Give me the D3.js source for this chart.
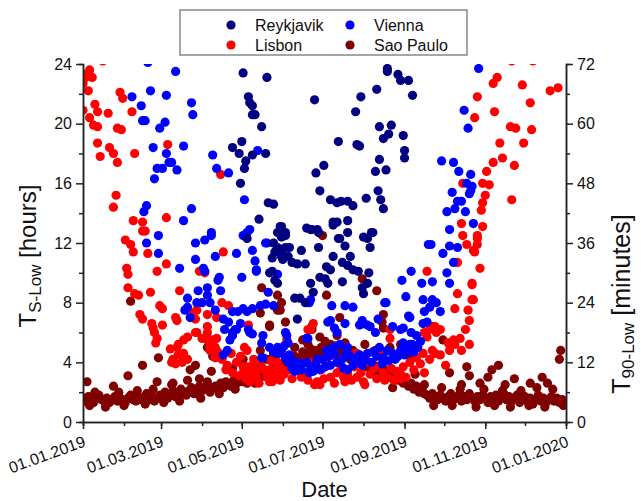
<!DOCTYPE html>
<html>
<head>
<meta charset="utf-8">
<script src="https://cdn.jsdelivr.net/npm/d3@7"></script>
<style>
body { margin: 0; background: #fff; }
svg { font-family: Arial, "Liberation Sans", sans-serif; }
</style>
</head>
<body>
<script>
// values are [day of 2019, T in hours]
const reykjavik = [[121,23.4],[139,23.1],[125,21.8],[126,21.4],[128,21.2],[128,20.6],[130,20.6],[135,19.8],[113,18.4],[120,18.8],[118,18.0],[128,17.9],[138,18.0],[123,17.5],[122,17.0],[119,16.0],[140,14.7],[144,14.6],[133,13.6],[149,13.1],
	[230,23.7],[230,23.5],[238,23.3],[240,22.9],[246,22.9],[222,22.3],[249,21.9],[210,21.8],[175,21.6],[206,20.8],[224,19.8],[233,19.9],[231,19.3],[227,19.0],[242,19.2],[193,18.8],[207,18.6],[209,18.5],[243,18.2],[243,17.7],[224,17.6],[182,17.2],[176,16.7],[229,16.9],[221,16.8],[179,15.5],[223,15.5],[187,14.9],[195,14.8],[192,14.7],[200,14.8],[204,14.5],[214,15.0],[225,14.9],[227,14.3],[189,13.2],[192,13.4],[169,13.0],[173,12.9],[177,12.9],[200,12.7],[219,12.7],[150,13.1],[153,12.7],
	[172,12.9],[178,12.7],[150,12.4],[153,11.7],[150,11.1],[165,11.5],[178,11.7],[194,12.3],[212,12.4],[218,12.7],[217,11.7],[198,11.8],[202,11.1],[189,11.1],[196,10.7],[184,10.4],[187,10.2],[200,10.5],[204,10.2],[208,10.1],[158,10.7],[162,10.6],[168,10.6],[216,10.0],[179,9.7],[183,9.6],[185,9.3],[196,9.4],[215,9.3],[172,9.3],[174,8.7],[211,9.0],[212,8.6],[160,8.3],[164,8.3],[168,8.0],[162,6.9],
	[143,11.0],[144,12.0],[147,11.7],[141,10.0],[145,9.5],[147,9.3],[147,12.7],[124,12.3],[145,11.4],[150,11.3],[156,11.7],[155,11.1],[151,10.9],[143,10.1],[153,12.5],[193,12.3],[215,12.3],[189,13.4],[200,13.5]];

const vienna = [[49,24.1],[70,23.5],[51,22.2],[63,21.9],[37,21.8],[82,21.4],[44,21.2],[83,20.6],[45,20.2],[47,20.2],[62,20.1],[58,19.7],[76,18.5],[53,18.4],[63,18.0],[98,17.9],[65,17.4],[67,17.4],[56,17.0],[60,17.0],[71,16.9],[101,17.0],[110,16.7],[54,16.3],[132,18.2],[122,14.9],[48,14.5],[82,14.3],[46,14.1],[76,13.5],[126,12.9],[57,12.5],[97,12.7],
	[48,12.0],[57,11.3],[85,12.0],[92,12.2],[97,12.5],[121,12.5],[124,12.7],[116,11.3],[128,11.5],[138,12.0],[100,11.1],[85,10.9],[73,10.3],[91,10.3],[92,10.1],[130,10.8],[131,10.1],[103,9.7],[102,9.5],[120,9.7],[87,8.8],[94,9.0],[94,8.5],[104,8.8],[140,8.7],[79,8.3],[79,7.7],[86,8.0],[90,8.0],[96,8.0],[77,7.5],[81,7.0],[100,7.5],[113,7.4],[117,7.4],[124,7.4],[128,7.6],[134,7.8],[138,7.9],[144,7.8],[106,6.9],[110,6.7],[119,6.6],[125,6.2],[128,5.9],[107,6.2],[115,6.2],[113,5.8],[111,5.5],[136,5.8],[135,5.3],[141,5.0],[144,4.7],[109,4.8],[106,4.5],[136,4.3],
	[122,12.5],[139,12.0],[131,10.2],[147,9.9],[172,8.2],[188,7.8],[198,7.8],[204,7.7],[228,8.0],[241,9.5],[248,10.1],[256,9.3],[244,8.4],[257,8.2],[261,11.9],[247,7.0],[258,7.4],[260,6.7],[121,7.6],[187,6.8],[198,6.6],[211,6.8],[215,6.5],[234,6.4],[242,6.3],
	[263,11.9],[272,11.3],[277,11.8],[283,11.7],[280,10.7],[264,9.4],[275,10.0],[277,9.3],[229,8.0],[264,8.2],[267,8.0],[262,7.7],[270,7.4],[171,8.0],[246,7.1],[223,6.9],[209,6.5],[185,6.7],[190,6.3],[221,6.0],[154,5.8],[170,5.6],[240,6.2],[248,6.0],[252,5.8],[249,5.2],[253,5.0],
	[113,6.0],[116,6.2],[126,6.0],[147,5.0],[150,4.8],[153,4.3],[155,4.0],[158,3.6],[162,3.5],[165,3.5],[169,4.0],[172,3.6],[177,3.6],[181,4.2],[184,4.8],[189,5.0],[194,5.2],[200,5.0],[202,4.4],[206,4.0],[200,3.5],[209,4.5],[215,4.6],[219,4.7],[224,5.0],[230,4.8],[234,4.6],[240,4.8],[242,5.3],[247,5.2],[135,4.3],[153,6.0],[155,5.3],[169,5.6],[192,6.0],[212,6.6],[217,6.4],[257,6.6],[211,3.8],[197,3.6],[177,4.2],[162,4.0],[156,4.5],[160,3.4],[164,3.8],[174,3.4],[179,3.5],[187,3.8],[192,4.0],[197,4.3],[204,3.8],[213,4.2],[227,4.3],[236,4.2],[243,4.5],
	[166,3.9],[171,3.3],[176,3.9],[183,3.7],[186,4.4],[190,4.6],[195,4.1],[199,4.7],[207,4.3],[218,4.0],[222,4.4],[226,3.9],[231,4.1],[238,4.4],[245,4.8],[250,4.7],[255,5.4],[148,4.6],[152,5.1],[157,4.2],
	[299,23.7],[288,20.9],[291,19.7],[271,17.5],[280,17.4],[284,16.8],[293,16.6],[290,16.0],[279,15.4],[293,15.5],[292,15.3],[283,14.8],[286,14.8],[281,14.3],[275,14.1],[289,14.1],[295,13.3],[277,12.9],[294,15.8]];

const lisbon = [[15,24.2],[2,23.1],[7,23.1],[0,22.7],[4,22.2],[5,23.6],[1,23.3],[28,22.1],[30,21.7],[9,21.3],[0,20.9],[11,20.8],[19,20.7],[37,20.8],[5,20.4],[8,19.9],[11,19.8],[26,19.7],[29,19.6],[11,18.7],[20,18.4],[23,18.0],[13,17.8],[26,17.4],[39,18.0],[64,18.6],[104,16.6],[25,15.2],[23,14.4],[38,13.5],[45,13.4],[63,13.7],[45,12.8],[47,12.8],[32,12.2],[36,11.9],[38,11.4],[49,11.3],[63,10.6],[56,10.1],[33,10.3],[34,9.9],[34,9.0],[39,8.6],[42,8.5],[51,8.7],[73,8.8],[58,7.8],[60,7.6],[43,7.2],[45,6.9],[70,7.0],[71,6.8],[52,6.6],[53,6.3],[60,6.5],[54,6.0],[56,5.6],[79,5.7],[55,5.3],[66,4.9],[72,5.2],[76,4.6],[72,4.5],[67,4.0],[70,3.9],[76,4.2],[86,6.0],[88,10.1],[92,10.0],[83,7.3],[86,7.5],[85,6.9],[94,7.2],[90,5.6],[94,5.5],[97,5.5],[101,5.6],[96,5.0],[100,5.0],[102,4.7],[94,6.4],[101,7.0],[106,11.4],[105,8.0],[110,7.8],[109,3.8],[122,5.0],[124,3.7],
	[68,4.2],[75,4.0],[79,4.2],[100,4.3],[116,4.0],[121,3.7],[113,3.3],[126,3.3],[131,3.0],[139,3.0],[144,3.3],[135,3.7],[147,3.7],[128,3.8],[143,2.7],[98,5.0],[85,6.0],[76,5.5],[71,5.0],[94,6.0],[96,4.8],[101,4.4],[124,4.8],[121,3.3],[131,3.4],[126,2.7],[141,3.5],[147,4.0],[141,2.7],[149,3.0],[156,3.5],[165,3.0],[177,2.7],[175,2.5],[187,3.0],[192,3.3],[197,3.0],[207,3.0],[217,3.2],[227,3.3],[237,3.4],[242,3.7],[247,4.0],[252,4.3],[257,4.6],[264,4.8],[260,5.7],[267,6.0],[227,4.0],[215,4.0],[192,4.0],[172,4.0],[164,3.7],[134,3.8],[174,6.6],[172,6.2],[154,5.5],[125,6.5],[227,4.6],[207,4.6],
	[152,3.2],[158,2.9],[160,3.8],[168,3.3],[170,2.8],[180,3.5],[182,2.9],[185,3.8],[190,2.6],[195,3.6],[200,3.2],[203,2.8],[205,3.7],[210,3.3],[212,2.7],[220,3.6],[222,2.9],[225,3.8],[230,3.0],[233,3.6],[235,2.8],[240,3.2],[244,3.0],[250,3.5],[255,3.9],[258,3.3],[262,4.2],[266,4.6],[270,4.5],[274,3.8],[277,4.8],[281,5.2],[285,5.6],[289,6.2],[292,6.8],[291,7.5],[286,4.8],[292,5.2],
	[105,4.2],[108,3.5],[112,4.6],[118,3.1],[119,4.4],[123,2.9],[129,4.2],[133,2.6],[137,3.5],[142,4.1],[146,2.9],[150,3.6],
	[287,12.5],[298,12.3],[290,11.9],[295,11.5],[283,10.7],[260,10.1],[294,9.3],[283,8.6],[281,7.6],[295,8.2],[270,6.2],[258,6.0],[262,6.2],[266,6.4],[280,5.5],[276,5.3],[170,6.2],[169,5.6],[232,5.6],[232,6.2],[178,2.6],[149,2.8],[179,2.5],[198,2.7],[213,2.5],[228,2.8],[240,2.9],
	[324,24.2],[340,24.2],[313,23.1],[310,22.7],[332,22.6],[353,22.2],[359,22.4],[298,21.8],[338,21.4],[296,20.4],[311,20.8],[323,19.8],[327,19.7],[339,19.6],[315,18.7],[333,18.7],[310,17.4],[317,17.7],[326,17.2],[305,16.8],[302,16.0],[307,15.9],[324,14.9],[304,15.2],[302,14.7],[301,14.2],[302,13.1],[298,12.5],[298,11.9],[296,11.4],[300,10.3],[294,9.2],[294,8.2],[287,16.0],[286,13.3]];

// Sao Paulo: one value every second day from 1 Jan, then the scattered ones
const saoPauloStep = 2;
const saoPauloDaily = [1.6,1.4,1.7,1.5,1.3,1.6,1.8,1.5,1.4,1.6,1.3,1.5,1.7,1.4,1.6,1.5,1.3,1.6,1.8,1.5,1.4,1.7,1.5,1.6,1.9,1.5,1.7,1.4,1.6,1.8,
	1.7,2.0,1.6,1.9,2.1,1.7,1.8,2.2,1.9,1.8,2.1,2.3,1.9,2.0,2.4,2.1,2.2,2.5,2.0,2.3,
	2.4,2.2,2.6,2.3,2.7,2.5,2.4,2.8,2.6,2.9,2.7,3.0,2.6,2.9,3.1,2.8,3.2,3.0,3.3,3.1,
	3.4,3.2,3.6,3.3,3.8,3.5,4.0,3.7,4.1,3.9,4.4,4.0,4.3,4.7,4.1,4.5,4.9,4.3,4.7,4.4,5.0,4.6,4.3,4.8,4.5,5.1,4.7,4.4,4.9,4.6,
	4.6,4.2,4.5,4.0,4.3,3.9,4.1,3.7,4.0,3.6,3.8,3.4,3.7,3.3,3.5,3.1,3.4,2.9,3.2,2.8,3.0,2.6,2.8,2.4,2.6,2.2,2.4,2.0,2.2,1.9,
	1.8,1.6,1.9,1.7,1.5,1.8,1.6,1.4,1.7,1.9,1.5,1.6,1.8,1.4,1.7,1.5,1.9,1.6,1.4,1.7,1.5,1.8,1.6,1.3,1.7,1.5,1.8,1.4,1.6,1.9,1.5,1.7,1.4,1.6,1.8,1.3,1.5,1.7,1.4,1.6,1.2,1.5,1.8,1.4,1.6,1.3,1.5,1.7,1.4,1.6,1.3,1.5,1.4];
const saoPauloExtra = [[3,2.7],[23,2.4],[34,3.1],[45,3.8],[36,8.1],[57,4.3],[56,2.7],[68,2.6],[85,3.8],[79,2.8],[97,3.4],[94,2.7],[94,5.0],[98,4.4],[135,9.0],[141,6.5],[147,7.5],[130,2.6],[150,12.7],[181,12.5],[147,8.5],[150,8.0],[149,7.5],[134,7.3],[153,6.7],[141,6.4],[184,8.5],[211,9.6],[222,8.8],[194,7.0],[227,7.2],[226,6.7],[173,6.4],[227,6.3],[173,6.2],[264,6.4],[272,5.5],[290,3.7],[277,3.3],[286,2.5],[251,3.2],[258,2.5],[234,3.0],[234,2.3],[179,5.7],[183,5.4],[187,5.2],[166,5.5],[170,5.2],[192,5.8],[198,5.3],[175,4.8],[160,5.0],[204,4.8],[213,5.2],[221,4.8],[232,5.0],[240,5.2],[247,4.5],[139,4.2],[144,4.5],[134,4.8],[121,4.2],[113,3.6],[88,2.9],[81,3.5],[306,3.0],[309,3.5],[314,3.8],[326,2.9],[347,3.0],[351,2.6],[361,4.8],[360,4.2],[338,2.6],[319,2.5],[300,2.6],[292,3.1],
	[5,1.1],[9,2.0],[17,1.0],[27,2.0],[31,1.1],[41,2.1],[47,1.2],[53,2.2],[61,1.3],[67,2.5],[73,1.4],[89,1.6],[103,1.9],[115,2.2],[265,1.1],[271,2.3],[279,1.1],[285,2.2],[297,1.0],[303,2.2],[311,1.1],[317,2.1],[323,1.0],[331,2.1],[337,1.1],[343,2.3],[349,1.0],[355,2.2],[363,1.1]];

const leftTicks = [0, 4, 8, 12, 16, 20, 24];
const rightTicks = [0, 12, 24, 36, 48, 60, 72];
const dateTicks = ["01.01.2019", "01.03.2019", "01.05.2019", "01.07.2019", "01.09.2019", "01.11.2019", "01.01.2020"];

const width = 641, height = 501;
const plotLeft = 83, plotRight = 566, plotTop = 64, plotBottom = 422;
const axisColor = "#222";

const svg = d3.select("body").append("svg")
	.attr("width", width)
	.attr("height", height);

const parseDate = d3.timeParse("%d.%m.%Y");
const x = d3.scaleTime().domain([parseDate(dateTicks[0]), parseDate(dateTicks[6])]).range([plotLeft, plotRight]);
const y = d3.scaleLinear().domain([0, 24]).range([plotBottom, plotTop]);
const yMin = d3.scaleLinear().domain([0, 72]).range([plotBottom, plotTop]);
const dayDate = d => new Date(2019, 0, 1 + d);

svg.append("clipPath").attr("id", "plotClip")
	.append("rect")
	.attr("x", plotLeft).attr("y", plotTop)
	.attr("width", plotRight - plotLeft).attr("height", plotBottom - plotTop);

const saoPaulo = saoPauloDaily.map((v, i) => [i * saoPauloStep, v]).concat(saoPauloExtra);

const series = [
	{ name: "Sao Paulo", color: "#800000", data: saoPaulo },
	{ name: "Lisbon", color: "#ff0000", data: lisbon },
	{ name: "Vienna", color: "#0000ff", data: vienna },
	{ name: "Reykjavik", color: "#000080", data: reykjavik }
];

const plot = svg.append("g").attr("clip-path", "url(#plotClip)");
series.forEach(function (s) {
	plot.append("g")
		.selectAll("circle")
		.data(s.data)
		.enter()
		.append("circle")
		.attr("cx", function (d) { return x(dayDate(d[0])); })
		.attr("cy", function (d) { return y(d[1]); })
		.attr("r", 4.6)
		.attr("fill", s.color);
});

function styleAxis(g) {
	g.attr("font-family", null).attr("font-size", null);
	g.select(".domain").attr("stroke", axisColor).attr("stroke-width", 1.5);
	g.selectAll(".tick line").attr("stroke", axisColor).attr("stroke-width", 1.5);
	g.selectAll(".tick text").attr("fill", "#111").attr("font-size", 16);
}

// minor ticks first, majors on top
svg.append("g").attr("transform", `translate(${plotLeft},0)`)
	.call(d3.axisLeft(y).tickValues([2, 6, 10, 14, 18, 22]).tickSize(4).tickFormat(""))
	.call(styleAxis);
svg.append("g").attr("transform", `translate(${plotRight},0)`)
	.call(d3.axisRight(yMin).tickValues([6, 18, 30, 42, 54, 66]).tickSize(4).tickFormat(""))
	.call(styleAxis);
svg.append("g").attr("transform", `translate(0,${plotBottom})`)
	.call(d3.axisBottom(x).ticks(d3.timeMonth.every(1)).tickSize(4).tickFormat(""))
	.call(styleAxis);

svg.append("g").attr("transform", `translate(${plotLeft},0)`)
	.call(d3.axisLeft(y).tickValues(leftTicks).tickSize(7).tickSizeOuter(0).tickPadding(4))
	.call(styleAxis);
svg.append("g").attr("transform", `translate(${plotRight},0)`)
	.call(d3.axisRight(yMin).tickValues(rightTicks).tickSize(7).tickSizeOuter(0).tickPadding(4))
	.call(styleAxis);
const xAxis = svg.append("g").attr("transform", `translate(0,${plotBottom})`)
	.call(d3.axisBottom(x).tickValues(dateTicks.map(parseDate)).tickFormat(d3.timeFormat("%d.%m.%Y")).tickSize(7).tickSizeOuter(0))
	.call(styleAxis);
xAxis.selectAll(".tick text")
	.attr("x", null).attr("y", null).attr("dy", null)
	.attr("text-anchor", "end")
	.attr("transform", "translate(3,24) rotate(-20)");

// axis titles
const yTitle = svg.append("text")
	.attr("transform", "translate(36,256) rotate(-90)")
	.attr("text-anchor", "middle")
	.attr("font-size", 24)
	.attr("fill", "#111");
yTitle.append("tspan").text("T");
yTitle.append("tspan").attr("font-size", 17).attr("dy", 5).text("S-Low");
yTitle.append("tspan").attr("dy", -5).text(" [hours]");

const yMinTitle = svg.append("text")
	.attr("transform", "translate(630,304) rotate(-90)")
	.attr("text-anchor", "middle")
	.attr("font-size", 25)
	.attr("fill", "#111");
yMinTitle.append("tspan").text("T");
yMinTitle.append("tspan").attr("font-size", 17).attr("dy", 4).text("90-Low");
yMinTitle.append("tspan").attr("dy", -4).text(" [minutes]");

svg.append("text")
	.attr("x", (plotLeft + plotRight) / 2)
	.attr("y", 497)
	.attr("text-anchor", "middle")
	.attr("font-size", 22)
	.attr("fill", "#111")
	.text("Date");

// legend
const legend = svg.append("g");
legend.append("rect")
	.attr("x", 180).attr("y", 10)
	.attr("width", 287).attr("height", 45)
	.attr("fill", "#fff")
	.attr("stroke", "#888")
	.attr("stroke-width", 1.5);

const legendItems = [
	{ name: "Reykjavik", color: "#000080", col: 0, row: 0 },
	{ name: "Vienna", color: "#0000ff", col: 1, row: 0 },
	{ name: "Lisbon", color: "#ff0000", col: 0, row: 1 },
	{ name: "Sao Paulo", color: "#800000", col: 1, row: 1 }
];
const item = legend.selectAll("g.item")
	.data(legendItems)
	.enter()
	.append("g")
	.attr("transform", function (d) { return `translate(${231 + d.col * 119},${25 + d.row * 20})`; });
item.append("circle").attr("r", 4.6).attr("fill", function (d) { return d.color; });
item.append("text")
	.attr("x", 24)
	.attr("y", 6)
	.attr("font-size", 16)
	.attr("fill", "#111")
	.text(function (d) { return d.name; });
</script>
</body>
</html>
